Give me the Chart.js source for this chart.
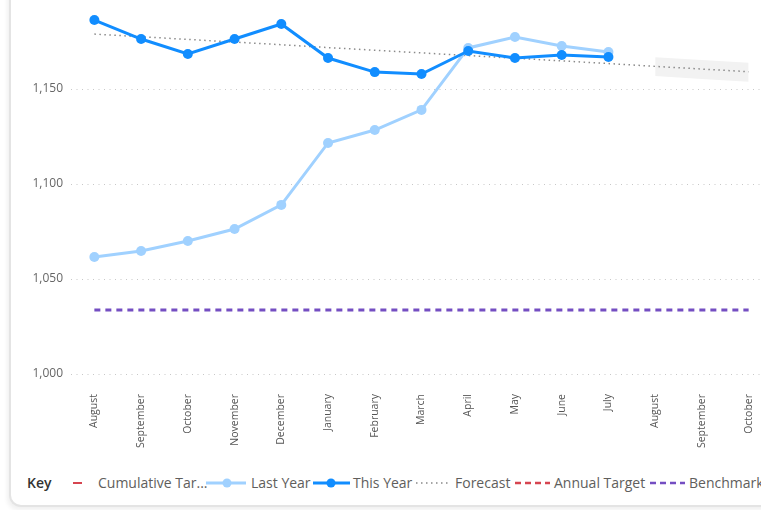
<!DOCTYPE html>
<html>
<head>
<meta charset="utf-8">
<script src="https://cdn.jsdelivr.net/npm/chart.js@4.4.0/dist/chart.umd.min.js"></script>
<style>
    html, body { margin: 0; padding: 0; background: #fff; overflow: hidden; }
    body { width: 761px; height: 510px; position: relative; font-family: "Segoe UI", "Open Sans", sans-serif; }
    #card {
        position: absolute; left: 9px; top: -20px; width: 800px; height: 525px;
        border-left: 2px solid #e4e4e4; border-bottom: 2px solid #e4e4e4;
        border-bottom-left-radius: 12px; background: #fff;
        box-shadow: -2px 3px 4px rgba(0,0,0,0.06);
    }
    #wrap { position: absolute; left: 0; top: -6px; width: 775px; height: 460px; }
    .leg { position: absolute; top: 473px; height: 20px; line-height: 20px; font-size: 14px; color: #605e5c; white-space: nowrap; }
    .leg svg { position: absolute; top: 0; }
    #key { left: 27px; font-weight: 600; color: #333; }
</style>
</head>
<body>
<div id="card"></div>
<div id="wrap"><canvas id="chartTendencia" width="775" height="460"></canvas></div>

<div class="leg" id="key">Key</div>
<div class="leg" style="left:70px;"><svg width="16" height="20"><line x1="3" y1="10" x2="12" y2="10" stroke="#d64550" stroke-width="2"/></svg></div>
<div class="leg" style="left:98px;">Cumulative Tar...</div>
<div class="leg" style="left:205px;"><svg width="44" height="20"><line x1="1" y1="10" x2="41" y2="10" stroke="#a0d1ff" stroke-width="3"/><circle cx="22" cy="10" r="4.5" fill="#a0d1ff"/></svg></div>
<div class="leg" style="left:251px;">Last Year</div>
<div class="leg" style="left:312px;"><svg width="42" height="20"><line x1="1" y1="10" x2="38" y2="10" stroke="#118dff" stroke-width="3"/><circle cx="19" cy="10" r="4.5" fill="#118dff"/></svg></div>
<div class="leg" style="left:353px;">This Year</div>
<div class="leg" style="left:415px;"><svg width="40" height="20"><line x1="1" y1="10" x2="36" y2="10" stroke="#888" stroke-width="1.5" stroke-dasharray="1.5 3.5"/></svg></div>
<div class="leg" style="left:455px;">Forecast</div>
<div class="leg" style="left:514px;"><svg width="40" height="20"><line x1="1" y1="10" x2="36" y2="10" stroke="#d64550" stroke-width="2.5" stroke-dasharray="6 4"/></svg></div>
<div class="leg" style="left:554px;">Annual Target</div>
<div class="leg" style="left:649px;"><svg width="40" height="20"><line x1="1" y1="10" x2="36" y2="10" stroke="#744ec2" stroke-width="2.5" stroke-dasharray="6 4"/></svg></div>
<div class="leg" style="left:689px;">Benchmark</div>

<script>
// ---- Datos ----
const meses = ['August', 'September', 'October', 'November', 'December', 'January', 'February',
               'March', 'April', 'May', 'June', 'July', 'August', 'September', 'October'];

const esteAnio    = [1186.3, 1176.3, 1168.4, 1176.3, 1184.2, 1166.3, 1158.9, 1157.9, 1170.0, 1166.3, 1167.9, 1166.8];
const anioPasado  = [1061.6, 1064.7, 1070.0, 1076.3, 1089.0, 1121.6, 1128.4, 1139.0, 1171.6, 1177.4, 1172.6, 1169.5];
const pronostico  = [1178.9, 1177.5, 1176.1, 1174.7, 1173.3, 1171.8, 1170.4, 1169.0, 1167.6, 1166.2, 1164.8, 1163.4, 1161.9, 1160.5, 1159.1];
const bandaSup    = [null, null, null, null, null, null, null, null, null, null, null, null, 1166.7, 1165.3, 1163.8];
const bandaInf    = [null, null, null, null, null, null, null, null, null, null, null, null, 1156.8, 1155.3, 1153.8];
const referencia  = [1033.7, 1033.7, 1033.7, 1033.7, 1033.7, 1033.7, 1033.7, 1033.7, 1033.7, 1033.7, 1033.7, 1033.7, 1033.7, 1033.7, 1033.7];
const metaAcumulada = [];
const metaAnual     = [];

const ticksY = [1000, 1050, 1100, 1150, 1200];

const fuente = '"Segoe UI", "Open Sans", sans-serif';

let chartTendencia = null;

document.addEventListener('DOMContentLoaded', () => {
    const ctx = document.getElementById('chartTendencia').getContext('2d');

    chartTendencia = new Chart(ctx, {
        type: 'line',
        data: {
            labels: meses,
            datasets: [
                {
                    label: 'This Year',
                    data: esteAnio,
                    borderColor: '#118dff',
                    backgroundColor: '#118dff',
                    borderWidth: 3,
                    pointRadius: 5,
                    pointBorderWidth: 0,
                    order: 1
                },
                {
                    label: 'Last Year',
                    data: anioPasado,
                    borderColor: '#a0d1ff',
                    backgroundColor: '#a0d1ff',
                    borderWidth: 3,
                    pointRadius: 5,
                    pointBorderWidth: 0,
                    order: 2
                },
                {
                    label: 'Forecast',
                    data: pronostico,
                    borderColor: '#8a8a8a',
                    borderWidth: 1.5,
                    borderDash: [1.5, 3.5],
                    pointRadius: 0,
                    order: 3
                },
                {
                    label: 'Benchmark',
                    data: referencia,
                    borderColor: '#744ec2',
                    borderWidth: 3,
                    borderDash: [6, 5],
                    pointRadius: 0,
                    order: 4
                },
                {
                    label: 'Cumulative Target',
                    data: metaAcumulada,
                    borderColor: '#d64550',
                    pointRadius: 0,
                    order: 5
                },
                {
                    label: 'Annual Target',
                    data: metaAnual,
                    borderColor: '#d64550',
                    borderDash: [6, 4],
                    pointRadius: 0,
                    order: 6
                },
                {
                    label: 'Banda sup',
                    data: bandaSup,
                    borderWidth: 0,
                    borderColor: 'rgba(0,0,0,0)',
                    backgroundColor: '#f2f2f2',
                    fill: '+1',
                    pointRadius: 0,
                    order: 8
                },
                {
                    label: 'Banda inf',
                    data: bandaInf,
                    borderWidth: 0,
                    borderColor: 'rgba(0,0,0,0)',
                    pointRadius: 0,
                    order: 9
                }
            ]
        },
        options: {
            responsive: false,
            animation: false,
            layout: { autoPadding: false, padding: { top: 0, right: 3, bottom: 0, left: 0 } },
            plugins: {
                legend: { display: false },
                tooltip: { enabled: false }
            },
            scales: {
                x: {
                    offset: true,
                    grid: { display: false, offset: true },
                    border: { display: false },
                    ticks: {
                        autoSkip: false,
                        minRotation: 90,
                        maxRotation: 90,
                        padding: 12,
                        color: '#555',
                        font: { family: fuente, size: 10.5 }
                    },
                    afterFit: s => { s.height = 80; s.paddingLeft = 0; s.paddingRight = 0; }
                },
                y: {
                    min: 1000,
                    max: 1200,
                    afterBuildTicks: s => { s.ticks = ticksY.map(v => ({ value: v })); },
                    grid: { color: '#c8c8c8', lineWidth: 1, drawTicks: false },
                    border: { display: false, dash: [1, 4.5] },
                    ticks: {
                        padding: 8,
                        color: '#666',
                        font: { family: fuente, size: 12 },
                        callback: v => v >= 1200 ? '' : v.toLocaleString('en-US')
                    },
                    afterFit: s => { s.width = 71; s.paddingTop = 0; s.paddingBottom = 0; }
                }
            }
        }
    });
});
</script>
</body>
</html>
